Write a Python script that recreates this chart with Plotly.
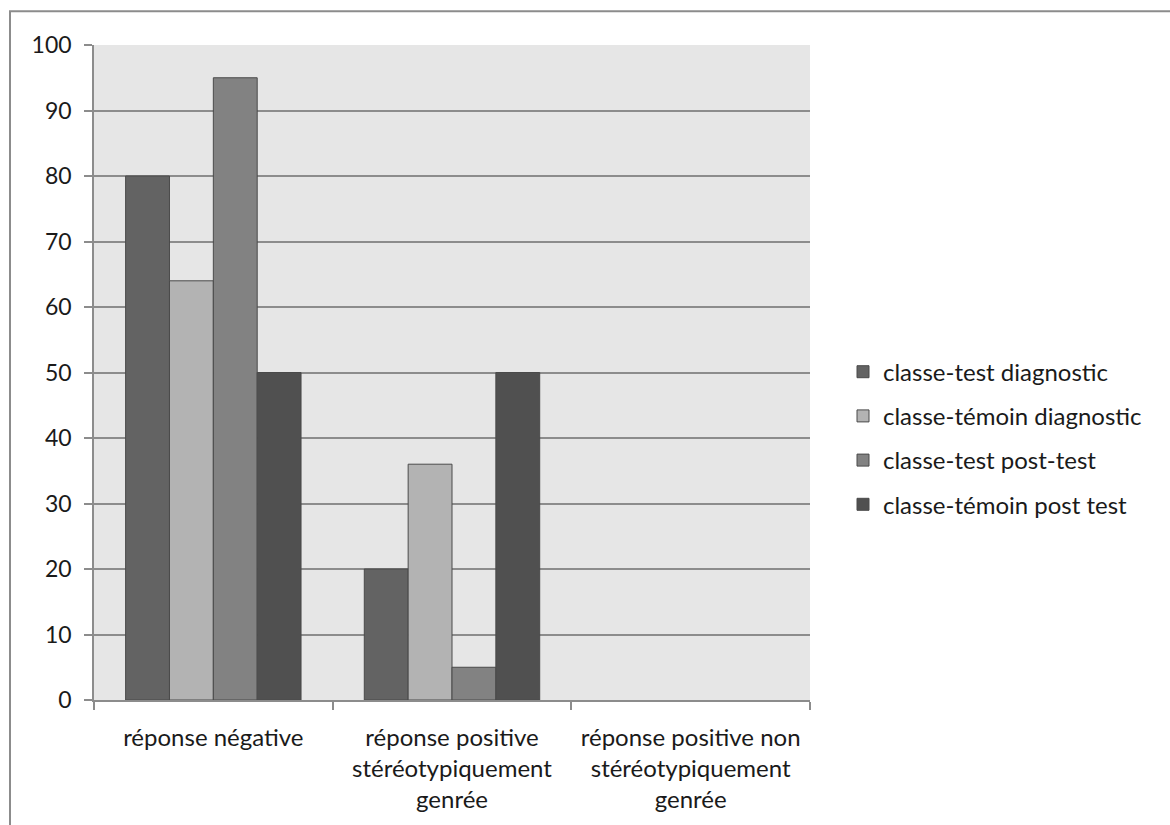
import plotly.graph_objects as go

categories = [
    "réponse négative",
    "réponse positive<br>stéréotypiquement<br>genrée",
    "réponse positive non<br>stéréotypiquement<br>genrée",
]
series_names = [
    "classe-test diagnostic",
    "classe-témoin diagnostic",
    "classe-test post-test",
    "classe-témoin post test",
]
series_values = [
    [80, 20, 0],
    [64, 36, 0],
    [95, 5, 0],
    [50, 50, 0],
]
colors = ["#636363", "#b3b3b3", "#828282", "#505050"]
y_ticks = list(range(0, 101, 10))

FONT = "Lato"
TXT = "#1a1a1a"

fig = go.Figure()
for i, (name, vals, col) in enumerate(zip(series_names, series_values, colors)):
    fig.add_trace(go.Bar(
        name=name,
        x=categories,
        y=vals,
        marker=dict(
            color=col,
            # no outline on empty bars so nothing shows at zero
            line=dict(color="#4a4a4a", width=[1 if v else 0 for v in vals]),
        ),
        legendgroup=f"g{i}",
    ))

W, H = 1170, 825
L, R, T, B = 94, 360, 45, 122
pw, ph = W - L - R, H - T - B

def px_x(x):
    return (x - L) / pw

def px_y(y):
    return 1 - (y - T) / ph

fig.update_layout(
    width=W, height=H,
    margin=dict(l=L, r=R, t=T, b=B, pad=0),
    paper_bgcolor="white",
    plot_bgcolor="#e6e6e6",
    barmode="group",
    bargap=0.265,
    bargroupgap=0,
    font=dict(family=FONT, size=24, color=TXT),
    showlegend=True,
    legend=dict(
        x=px_x(843), y=px_y(351), xanchor="left", yanchor="top",
        font=dict(family=FONT, size=24, color=TXT),
        traceorder="grouped",
        tracegroupgap=10,
        bgcolor="rgba(0,0,0,0)",
        itemwidth=30,
    ),
    xaxis=dict(
        type="category",
        tickson="boundaries",
        ticks="outside",
        ticklen=8,
        tickcolor="#8c8c8c",
        tickwidth=1.5,
        showline=True,
        linecolor="#8c8c8c",
        linewidth=1.5,
        showgrid=False,
        ticklabelstandoff=15,
        tickfont=dict(family=FONT, size=24, color=TXT),
    ),
    yaxis=dict(
        range=[0, 100],
        tickvals=y_ticks,
        ticks="outside",
        ticklen=8,
        tickcolor="#8c8c8c",
        tickwidth=1.5,
        showline=True,
        linecolor="#8c8c8c",
        linewidth=1.5,
        showgrid=True,
        gridcolor="#8c8c8c",
        gridwidth=1.5,
        zeroline=False,
        ticklabelstandoff=8,
        tickfont=dict(family=FONT, size=23, color=TXT),
    ),
    shapes=[
        dict(
            type="rect", xref="paper", yref="paper",
            x0=px_x(10), x1=px_x(1185), y0=px_y(840), y1=px_y(11),
            line=dict(color="#8c8c8c", width=2),
            fillcolor="rgba(0,0,0,0)", layer="below",
        )
    ],
)

fig.write_html("out.html")
